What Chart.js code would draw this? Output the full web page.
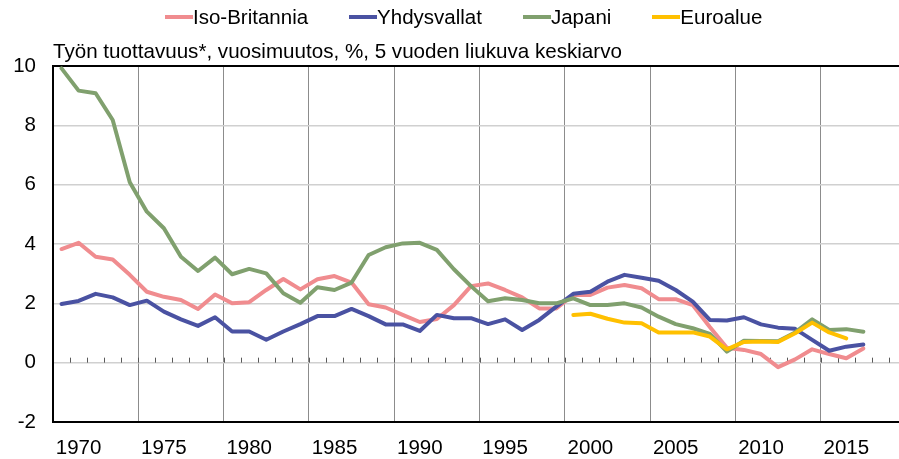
<!DOCTYPE html>
<html>
<head>
<meta charset="utf-8">
<script src="https://cdn.jsdelivr.net/npm/chart.js@4"></script>
<style>
    html, body { margin: 0; padding: 0; background: #fff; }
    #wrap { position: relative; width: 899px; height: 459px; overflow: hidden; font-family: "Liberation Sans", Arial, sans-serif; color: #000; }
    #chart { position: absolute; left: 0; top: 0; }
    #legend { position: absolute; left: 165px; top: 7px; display: flex; gap: 41px; font-size: 20.5px; line-height: 20px; }
    .item { display: flex; align-items: center; }
    .swatch { display: inline-block; width: 28px; height: 4px; }
    #title { position: absolute; left: 53px; top: 41px; font-size: 20.6px; line-height: 20px; white-space: nowrap; }
</style>
</head>
<body>
<div id="wrap">
    <canvas id="chart" width="912" height="459"></canvas>
    <div id="legend"></div>
    <div id="title">Työn tuottavuus*, vuosimuutos, %, 5 vuoden liukuva keskiarvo</div>
</div>
<script>
// Years on the axis (1969-2018)
const years = [1969, 1970, 1971, 1972, 1973, 1974, 1975, 1976, 1977, 1978,
               1979, 1980, 1981, 1982, 1983, 1984, 1985, 1986, 1987, 1988,
               1989, 1990, 1991, 1992, 1993, 1994, 1995, 1996, 1997, 1998,
               1999, 2000, 2001, 2002, 2003, 2004, 2005, 2006, 2007, 2008,
               2009, 2010, 2011, 2012, 2013, 2014, 2015, 2016, 2017, 2018];

// Years that get a label
const tickYears = [1970, 1975, 1980, 1985, 1990, 1995, 2000, 2005, 2010, 2015];

// Series values, 1969-2016
const ukValues = [3.83, 4.04, 3.57, 3.48, 2.96, 2.39, 2.22, 2.11, 1.81, 2.30,
                  2.00, 2.04, 2.45, 2.82, 2.47, 2.81, 2.92, 2.70, 1.97, 1.86,
                  1.61, 1.37, 1.47, 1.94, 2.58, 2.67, 2.45, 2.20, 1.83, 1.83,
                  2.28, 2.28, 2.53, 2.62, 2.51, 2.14, 2.14, 1.94, 1.20, 0.50,
                  0.43, 0.29, -0.15, 0.11, 0.45, 0.29, 0.15, 0.48];

const usValues = [1.98, 2.08, 2.32, 2.20, 1.94, 2.09, 1.72, 1.46, 1.24, 1.53,
                  1.05, 1.05, 0.77, 1.05, 1.30, 1.57, 1.57, 1.81, 1.57, 1.29,
                  1.29, 1.07, 1.61, 1.50, 1.50, 1.30, 1.46, 1.10, 1.44, 1.89,
                  2.32, 2.39, 2.73, 2.96, 2.86, 2.76, 2.45, 2.06, 1.44, 1.42,
                  1.53, 1.29, 1.18, 1.14, 0.77, 0.40, 0.54, 0.61];

const japanValues = [9.92, 9.17, 9.08, 8.18, 6.08, 5.09, 4.53, 3.57, 3.09, 3.54,
                     2.98, 3.16, 3.01, 2.34, 2.02, 2.54, 2.45, 2.70, 3.63, 3.89,
                     4.02, 4.04, 3.80, 3.15, 2.58, 2.07, 2.17, 2.11, 2.00, 2.00,
                     2.17, 1.94, 1.94, 2.00, 1.86, 1.55, 1.30, 1.16, 0.97, 0.37,
                     0.74, 0.73, 0.72, 1.02, 1.46, 1.10, 1.13, 1.04];

// Euro area starts in 1999
const euroStart = 1999;
const euroValues = [1.61, 1.65, 1.48, 1.35, 1.33, 1.02, 1.02, 1.02, 0.88, 0.45,
                    0.70, 0.71, 0.70, 0.99, 1.35, 1.02, 0.82];

const seriesNames = ['Iso-Britannia', 'Yhdysvallat', 'Japani', 'Euroalue'];
const seriesColors = ['#f08c8f', '#4a52a2', '#80a06e', '#ffc000'];

// Euro values aligned with the year axis
const euroData = years.map(y => {
    const i = y - euroStart;
    return (i >= 0 && i < euroValues.length) ? euroValues[i] : null;
});

// Legend
const legendEl = document.getElementById('legend');
seriesNames.forEach((name, i) => {
    const item = document.createElement('div');
    item.className = 'item';
    const sw = document.createElement('span');
    sw.className = 'swatch';
    sw.style.background = seriesColors[i];
    const txt = document.createElement('span');
    txt.textContent = name;
    item.appendChild(sw);
    item.appendChild(txt);
    legendEl.appendChild(item);
});

// Small tick marks on the zero line
const zeroTicks = {
    id: 'zeroTicks',
    beforeDatasetsDraw(chart) {
        const x = chart.scales.x;
        const y = chart.scales.y;
        const y0 = y.getPixelForValue(0);
        const ctx = chart.ctx;
        ctx.save();
        ctx.strokeStyle = '#595959';
        ctx.lineWidth = 1;
        ctx.beginPath();
        for (let i = 1; i < years.length; i++) {
            const px = Math.round((x.getPixelForValue(i - 1) + x.getPixelForValue(i)) / 2) + 0.5;
            ctx.moveTo(px, y0 - 5);
            ctx.lineTo(px, y0);
        }
        ctx.stroke();
        ctx.restore();
    }
};

function lineSet(label, data, color) {
    return {
        label: label,
        data: data,
        borderColor: color,
        backgroundColor: color,
        borderWidth: 4,
        pointRadius: 0,
        tension: 0,
        fill: false,
        spanGaps: false,
        borderCapStyle: 'round',
        borderJoinStyle: 'round'
    };
}

const tickFont = { family: '"Liberation Sans", Arial, sans-serif', size: 20.5 };

const ctx = document.getElementById('chart').getContext('2d');
const chart = new Chart(ctx, {
    type: 'line',
    data: {
        labels: years.map(String),
        // first dataset is drawn on top
        datasets: [
            lineSet(seriesNames[3], euroData, seriesColors[3]),
            lineSet(seriesNames[2], japanValues, seriesColors[2]),
            lineSet(seriesNames[1], usValues, seriesColors[1]),
            lineSet(seriesNames[0], ukValues, seriesColors[0])
        ]
    },
    options: {
        responsive: false,
        animation: false,
        layout: { padding: { left: 0, top: 66, right: 6, bottom: 0 } },
        plugins: {
            legend: { display: false },
            title: { display: false },
            tooltip: { enabled: false }
        },
        scales: {
            x: {
                type: 'category',
                offset: true,
                afterFit: s => { s.height = 37; },
                grid: {
                    offset: true,
                    drawTicks: false,
                    lineWidth: 1,
                    color: c => (c.index > 0 && c.index % 5 === 0) ? '#8c8c8c' : 'rgba(0,0,0,0)'
                },
                border: { display: true, color: '#000', width: 2 },
                ticks: {
                    autoSkip: false,
                    maxRotation: 0,
                    padding: 14,
                    color: '#000',
                    font: tickFont,
                    callback: function(value, index) {
                        const y = years[index];
                        return tickYears.includes(y) ? String(y) : '';
                    }
                }
            },
            y: {
                min: -2,
                max: 10,
                afterFit: s => { s.width = 53; },
                grid: {
                    drawTicks: false,
                    color: c => (c.tick.value === 10 || c.tick.value === -2) ? '#000' : '#d0d0d0',
                    lineWidth: c => (c.tick.value === 10 || c.tick.value === -2) ? 2 : 1.5
                },
                border: { display: true, color: '#000', width: 2 },
                ticks: {
                    stepSize: 2,
                    padding: 17,
                    color: '#000',
                    font: tickFont
                }
            }
        }
    },
    plugins: [zeroTicks]
});
</script>
</body>
</html>
